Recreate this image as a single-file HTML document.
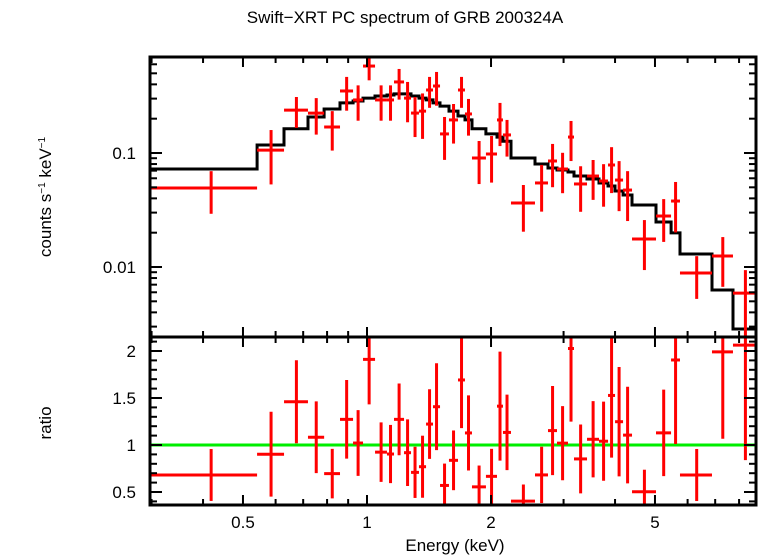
<!DOCTYPE html>
<html><head><meta charset="utf-8"><style>
html,body{margin:0;padding:0;background:#fff;}
svg{display:block;font-family:"Liberation Sans",sans-serif;}
</style></head><body>
<svg id="chart" width="758" height="556" viewBox="0 0 758 556" xmlns="http://www.w3.org/2000/svg">
<rect x="0" y="0" width="758" height="556" fill="#fff"/>
<text x="405" y="23" font-size="17" text-anchor="middle">Swift−XRT PC spectrum of GRB 200324A</text>
<text transform="translate(51,197) rotate(-90)" font-size="17" text-anchor="middle">counts s<tspan font-size="10" dy="-6">−1</tspan><tspan dy="6"> keV</tspan><tspan font-size="10" dy="-6">−1</tspan></text>
<text transform="translate(51,423) rotate(-90)" font-size="17" text-anchor="middle">ratio</text>
<text x="455" y="551" font-size="17" text-anchor="middle">Energy (keV)</text>
<g id="marks"></g>
<g id="axes"></g>
</svg>
<script>
const eLo=[0.296,0.541,0.629,0.719,0.787,0.860,0.925,0.978,1.046,1.118,1.163,1.230,1.279,1.337,1.391,1.446,1.504,1.581,1.663,1.729,1.798,1.944,2.068,2.138,2.236,2.557,2.750,2.892,3.075,3.180,3.420,3.657,3.846,4.000,4.183,4.398,5.029,5.470,5.750,6.876,7.732];
const eHi=[0.541,0.629,0.719,0.787,0.860,0.925,0.978,1.046,1.118,1.163,1.230,1.279,1.337,1.391,1.446,1.504,1.581,1.663,1.729,1.798,1.944,2.068,2.138,2.236,2.557,2.750,2.892,3.075,3.180,3.420,3.657,3.846,4.000,4.183,4.398,5.029,5.470,5.750,6.876,7.732,8.845];
const flux=[0.0493,0.106,0.238,0.224,0.169,0.350,0.292,0.579,0.292,0.292,0.420,0.303,0.224,0.233,0.357,0.387,0.147,0.195,0.357,0.220,0.0904,0.098,0.195,0.144,0.0364,0.0546,0.0851,0.0724,0.138,0.0535,0.0628,0.0568,0.0785,0.0579,0.0473,0.0176,0.0280,0.0379,0.00885,0.0125,0.0059];
const fluxErr=[0.020,0.053,0.072,0.079,0.064,0.115,0.10,0.145,0.10,0.10,0.126,0.117,0.086,0.10,0.108,0.127,0.06,0.074,0.108,0.078,0.037,0.043,0.080,0.051,0.016,0.024,0.035,0.028,0.053,0.023,0.024,0.023,0.034,0.027,0.022,0.0082,0.0114,0.0178,0.0036,0.0058,0.0035];
const model=[0.0724,0.1175,0.163,0.207,0.243,0.275,0.286,0.303,0.316,0.323,0.330,0.330,0.316,0.303,0.292,0.275,0.258,0.233,0.211,0.195,0.163,0.147,0.138,0.127,0.0904,0.0801,0.0738,0.0710,0.0681,0.0628,0.0592,0.0546,0.0514,0.0464,0.0428,0.0350,0.0248,0.0199,0.0130,0.00628,0.00286];
const xTickLabels=["0.5","1","2","5"];
const xTickVals=[0.5,1,2,5];
const yTickLabels=["0.1","0.01"];
const yTickVals=[0.1,0.01];
const rTickLabels=["0.5","1","1.5","2"];
const rTickVals=[0.5,1,1.5,2];

const NS="http://www.w3.org/2000/svg";
const L=150,R=756,T1=57,B1=337,T2=337,B2=505;
const xS=e=>367+412*Math.log10(e);
const yS=f=>153-114*(Math.log10(f)+1);
const rS=r=>445-94*(r-1);
const marks=document.getElementById('marks'), axes=document.getElementById('axes');
function el(tag,attrs,parent){const e=document.createElementNS(NS,tag);for(const k in attrs)e.setAttribute(k,attrs[k]);parent.appendChild(e);return e;}
const clip=(v,a,b)=>Math.max(a,Math.min(b,v));

let d='';
for(let i=0;i<model.length;i++){
  const x0=clip(xS(eLo[i]),L,R),x1=clip(xS(eHi[i]),L,R),y=clip(yS(model[i]),T1,B1);
  d+=(i===0?'M':'L')+x0.toFixed(1)+','+y.toFixed(1)+'L'+x1.toFixed(1)+','+y.toFixed(1);
}
const mp=el('path',{d:d,fill:'none',stroke:'#000','stroke-width':3},marks);



const gl=el('line',{x1:L,x2:R,y1:rS(1),y2:rS(1),stroke:'#00ee00','stroke-width':3},marks);



for(let i=0;i<flux.length;i++){
  const xc=xS((eLo[i]+eHi[i])/2),x0=clip(xS(eLo[i]),L,R),x1=clip(xS(eHi[i]),L,R);
  const g=el('g',{stroke:'#ff0000','stroke-width':3},marks);
  
  
  const y=yS(flux[i]);
  const yt=clip(yS(flux[i]+fluxErr[i]),T1,B1), yb=flux[i]-fluxErr[i]>0?clip(yS(flux[i]-fluxErr[i]),T1,B1):B1;
  if(y>=T1&&y<=B1) el('line',{x1:x0,x2:x1,y1:y,y2:y},g);
  el('line',{x1:xc,x2:xc,y1:yt,y2:yb},g);
  const r=flux[i]/model[i], re=fluxErr[i]/model[i];
  const g2=el('g',{stroke:'#ff0000','stroke-width':3},marks);
  
  
  const ry=rS(r);
  if(ry>=T2&&ry<=B2) el('line',{x1:x0,x2:x1,y1:ry,y2:ry},g2);
  el('line',{x1:xc,x2:xc,y1:clip(rS(r+re),T2,B2),y2:clip(rS(r-re),T2,B2)},g2);
}

const f1=el('rect',{x:L,y:T1,width:R-L,height:B1-T1,fill:'none',stroke:'#000','stroke-width':3},axes);


const f2=el('rect',{x:L,y:T2,width:R-L,height:B2-T2,fill:'none',stroke:'#000','stroke-width':3},axes);



const tg=el('g',{stroke:'#000','stroke-width':2},axes);


const xt=[];
for(let dcd=-1;dcd<=0;dcd++)for(let m=1;m<10;m++){xt.push(m*Math.pow(10,dcd));}
for(const e of xt){
  const x=xS(e); if(x<=L+1||x>=R-1) continue;
  const maj=xTickVals.some(v=>Math.abs(v-e)<1e-6);
  const len=maj?10:6;
  [[T1,1],[B1,-1],[T2,1],[B2,-1]].forEach(([yy,s])=>el('line',{x1:x,x2:x,y1:yy,y2:yy+s*len},tg));
}
xTickVals.forEach((v,i)=>{const t=el('text',{x:xS(v),y:528,'font-size':17,'text-anchor':'middle'},axes);t.textContent=xTickLabels[i];

});
for(let dcd=-3;dcd<=-1;dcd++)for(let m=1;m<10;m++){
  const v=m*Math.pow(10,dcd),y=yS(v); if(y<=T1+1||y>=B1-1) continue;
  const len=m===1?12:7;
  el('line',{x1:L,x2:L+len,y1:y,y2:y},tg);el('line',{x1:R,x2:R-len,y1:y,y2:y},tg);
}
yTickVals.forEach((v,i)=>{const t=el('text',{x:136,y:yS(v)+6,'font-size':17,'text-anchor':'end'},axes);t.textContent=yTickLabels[i];

});
for(let k=4;k<=21;k++){
  const v=k/10,y=rS(v); if(y<=T2+1||y>=B2-1) continue;
  const len=(k%5===0)?12:7;
  el('line',{x1:L,x2:L+len,y1:y,y2:y},tg);el('line',{x1:R,x2:R-len,y1:y,y2:y},tg);
}
rTickVals.forEach((v,i)=>{const t=el('text',{x:136,y:rS(v)+6,'font-size':17,'text-anchor':'end'},axes);t.textContent=rTickLabels[i];

});
</script>
</body></html>
